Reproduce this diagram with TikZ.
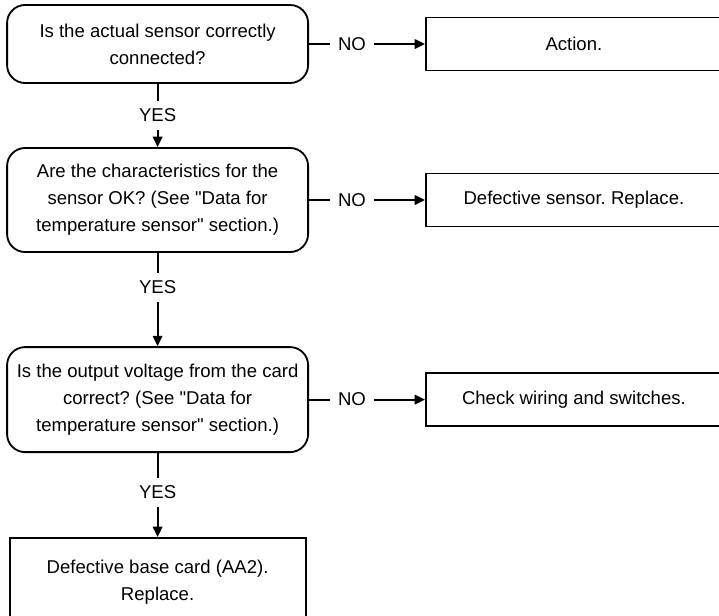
\documentclass[tikz,border=0pt]{standalone}
\usepackage{fontspec}
\setmainfont{Liberation Sans}[Ligatures=TeXOff]
\usetikzlibrary{arrows.meta, positioning}
\frenchspacing

\begin{document}
\begin{tikzpicture}[
    every node/.style={font=\fontsize{13.2}{19.2}\selectfont, align=center},
    question/.style={rectangle, rounded corners=0.45cm, draw, line width=1.3pt, minimum width=7.525cm, inner sep=2pt},
    result/.style={rectangle, draw, line width=1.3pt, minimum width=7.4cm, minimum height=1.325cm, inner sep=2pt},
    arrow/.style={-{Triangle[length=0.26cm, width=0.24cm]}, line width=1.3pt},
    edgelabel/.style={fill=white, inner sep=0.2cm}
]
\useasboundingbox (0,0) rectangle (17.975,-15.375);

% Questions down the left
\node[question, minimum height=1.95cm] (q1) at (3.94,-1.1)
   {Is the actual sensor correctly\\connected?};
\node[question, minimum height=2.6cm] (q2) at (3.94,-5.0)
   {Are the characteristics for the\\sensor OK? (See "Data for\\temperature sensor" section.)};
\node[question, minimum height=2.625cm] (q3) at (3.94,-9.99)
   {Is the output voltage from the card\\correct? (See "Data for\\temperature sensor" section.)};
\node[result, minimum height=2.2cm, anchor=north] (card) at (3.94,-13.425)
   {Defective base card (AA2).\\Replace.};

% Actions on the right
\node[result, anchor=west] (action) at (10.625,-1.1) {Action.};
\node[result, anchor=west] (sensor) at (10.625,-5.0) {Defective sensor. Replace.};
\node[result, anchor=west] (wiring) at (10.625,-9.99) {Check wiring and switches.};

\draw[arrow] (q1) -- node[edgelabel, pos=0.37] {NO} (action);
\draw[arrow] (q2) -- node[edgelabel, pos=0.37] {NO} (sensor);
\draw[arrow] (q3) -- node[edgelabel, pos=0.37] {NO} (wiring);

\draw[arrow] (q1) -- node[edgelabel] {YES} (q2);
\draw[arrow] (q2) -- node[edgelabel, pos=0.37] {YES} (q3);
\draw[arrow] (q3) -- node[edgelabel, pos=0.47] {YES} (card);
\end{tikzpicture}
\end{document}
